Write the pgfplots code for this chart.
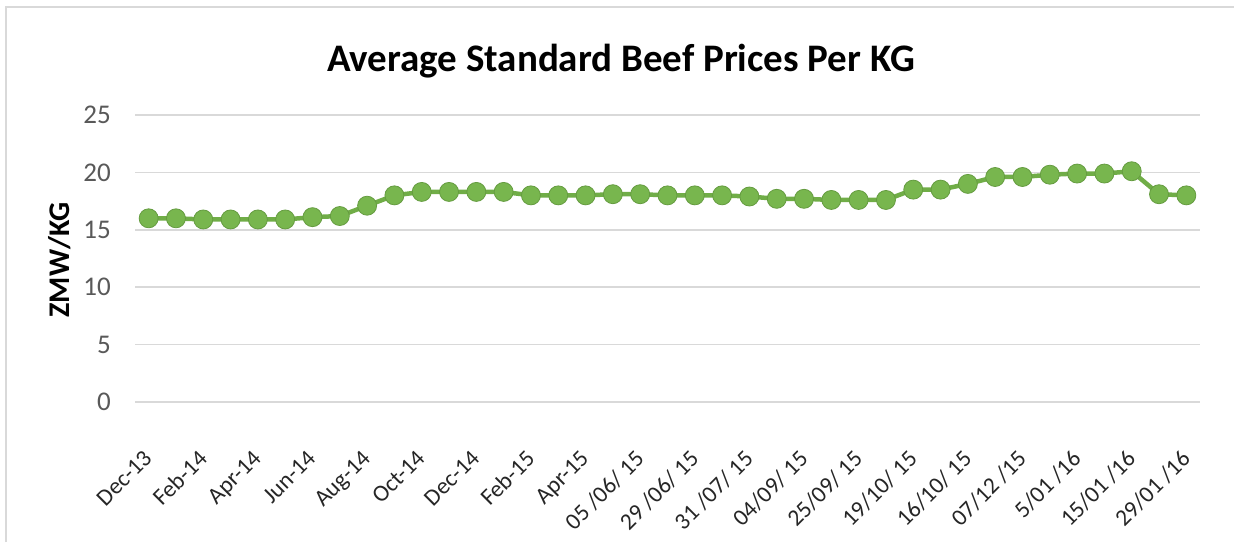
\documentclass[border=0pt]{standalone}
\usepackage{pgfplots}
\pgfplotsset{compat=1.18}
\usepackage{fontspec}
\setmainfont{Carlito}
\definecolor{lgreen}{RGB}{112,173,71}
\definecolor{mfill}{RGB}{120,182,78}
\definecolor{gridgray}{RGB}{217,217,217}
\definecolor{ticktxt}{RGB}{89,89,89}
\begin{document}
\begin{tikzpicture}[x=1pt,y=1pt]
\useasboundingbox (0,0) rectangle (1234,542);
\fill[white] (0,0) rectangle (1234,542);
\draw[gridgray, line width=2.5pt] (6,0) -- (6,535) -- (1234,535);
\node[font=\fontsize{39}{44}\selectfont\bfseries] at (621,481) {Average Standard Beef Prices Per KG};
\node[font=\fontsize{30}{34}\selectfont\bfseries, rotate=90] at (60,282) {ZMW/KG};
\begin{axis}[
  at={(135pt,140pt)}, anchor=south west,
  width=1065pt, height=287pt, scale only axis,
  xmin=-0.5, xmax=38.5, ymin=0, ymax=25,
  axis line style={draw=none},
  ytick={0,5,...,25},
  ymajorgrids, grid style={gridgray, line width=1.5pt},
  major tick length=0pt,
  xtick={0,2,...,38},
  xticklabels={Dec-13,Feb-14,Apr-14,Jun-14,Aug-14,Oct-14,Dec-14,Feb-15,Apr-15,05 /06/ 15,29 /06/ 15,31 /07/ 15,04/09/ 15,25/09/ 15,19/10/ 15,16/10/ 15,07/12 /15,5/01 /16,15/01 /16,29/01 /16},
  /pgf/number format/assume math mode=true,
  yticklabel style={font=\fontsize{27}{32}\selectfont, text=ticktxt, anchor=east, inner sep=0pt, xshift=-24pt},
  xticklabel style={font=\fontsize{23.5}{28}\selectfont, text=black!85, rotate=45, anchor=north east, inner sep=0pt, xshift=-37.5pt, yshift=-28.5pt},
  clip=false,
]
\draw[gridgray, line width=1.5pt] (axis cs:-0.5,0) -- (axis cs:38.5,0);
\addplot[color=lgreen, line width=4.5pt, mark=*, mark size=9.5pt,
  mark options={fill=mfill, draw=lgreen!90!black, line width=0.8pt}]
coordinates {
(0,16.0) (1,16.0) (2,15.9) (3,15.9) (4,15.9) (5,15.9) (6,16.1) (7,16.2)
(8,17.1) (9,18.0) (10,18.3) (11,18.3) (12,18.3) (13,18.3) (14,18.0) (15,18.0)
(16,18.0) (17,18.1) (18,18.1) (19,18.0) (20,18.0) (21,18.0) (22,17.9) (23,17.7)
(24,17.7) (25,17.6) (26,17.6) (27,17.6) (28,18.5) (29,18.5) (30,19.0) (31,19.6)
(32,19.6) (33,19.8) (34,19.9) (35,19.9) (36,20.1) (37,18.1) (38,18.0)
};
\end{axis}
\end{tikzpicture}
\end{document}
